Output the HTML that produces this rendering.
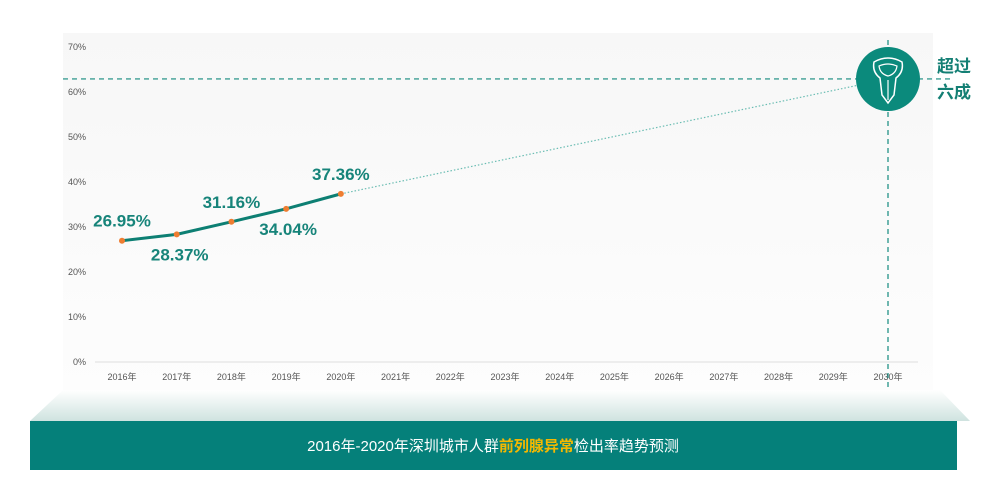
<!DOCTYPE html>
<html><head><meta charset="utf-8"><style>
body{margin:0;width:1000px;height:489px;background:#fff;overflow:hidden;font-family:"Liberation Sans","Noto Sans CJK SC",sans-serif}
</style></head><body>
<svg width="1000" height="489">
<defs>
<linearGradient id="bg" x1="0" y1="0" x2="0" y2="1"><stop offset="0" stop-color="#f7f7f7"/><stop offset="1" stop-color="#fdfdfd"/></linearGradient>
<linearGradient id="tr" x1="0" y1="0" x2="0" y2="1"><stop offset="0" stop-color="#ffffff"/><stop offset="1" stop-color="#cfe3e0"/></linearGradient>
</defs>
<rect x="63" y="33" width="870" height="360" fill="url(#bg)"/>
<polygon points="63,390 940,390 970,421 30,421" fill="url(#tr)"/>
<rect x="30" y="421" width="927" height="49" fill="#05807a"/>
<text x="493" y="451" text-anchor="middle" font-size="15" fill="#fff">2016年-2020年深圳城市人群<tspan fill="#f5b800" font-weight="bold">前列腺异常</tspan>检出率趋势预测</text>
<g id="axes"></g>
<g id="marks"></g>
<g>
<circle cx="888" cy="79" r="32" fill="#0b8a7c"/>
<path d="M874 62 Q888 54 902 62 Q904 72 896 78 L894 95 L888 103 L882 95 L880 78 Q872 72 874 62 Z" fill="none" stroke="#fff" stroke-width="1.5"/>
<path d="M879 66 Q888 62 897 66 Q896 74 888 76 Q880 74 879 66 Z" fill="none" stroke="#fff" stroke-width="1.2"/>
<line x1="888" y1="80" x2="888" y2="100" stroke="#fff" stroke-width="1.2"/>
</g>
<text x="937" y="72" font-size="17" font-weight="bold" fill="#137f74">超过</text>
<text x="937" y="98" font-size="17" font-weight="bold" fill="#137f74">六成</text>
</svg>
<script>
const years=["2016年","2017年","2018年","2019年","2020年","2021年","2022年","2023年","2024年","2025年","2026年","2027年","2028年","2029年","2030年"];
const actual=[26.95,28.37,31.16,34.04,37.36];
const projected=62.9;
const yTicks=[0,10,20,30,40,50,60,70];
const NS="http://www.w3.org/2000/svg";
const xs=i=>122+i*(888-122)/14;
const ys=v=>362-v*4.5;
function mk(t,a,p){const e=document.createElementNS(NS,t);for(const k in a)e.setAttribute(k,a[k]);(p||document.getElementById('marks')).appendChild(e);return e;}
const ax=document.getElementById('axes');
yTicks.forEach(v=>{const t=mk('text',{x:86,y:ys(v)+3,'text-anchor':'end','font-size':9,fill:'#555'},ax);t.textContent=v+'%';

});
const base=mk('line',{x1:95,x2:918,y1:ys(0),y2:ys(0),stroke:'#ddd'},ax);


years.forEach((y,i)=>{const t=mk('text',{x:xs(i),y:380,'text-anchor':'middle','font-size':9,fill:'#555'},ax);t.textContent=y;

});
const last=actual.length-1;
const hl=mk('line',{x1:63,x2:950,y1:ys(projected),y2:ys(projected),stroke:'#138a7e','stroke-dasharray':'5,4','stroke-width':1.2});


const vl=mk('line',{x1:xs(14),x2:xs(14),y1:40,y2:389,stroke:'#138a7e','stroke-dasharray':'5,4','stroke-width':1.2});


const pl=mk('line',{x1:xs(last),y1:ys(actual[last]),x2:xs(14),y2:ys(projected),stroke:'#6bbdb3','stroke-dasharray':'1.5,2','stroke-width':1.2});


const line=mk('polyline',{points:actual.map((v,i)=>xs(i)+','+ys(v)).join(' '),fill:'none',stroke:'#0d7f73','stroke-width':3});


const off=[[0,-14],[3,26],[0,-14],[2,26],[0,-14]];
actual.forEach((v,i)=>{const c=mk('circle',{cx:xs(i),cy:ys(v),r:3,fill:'#ee7d31'});


const t=mk('text',{x:xs(i)+off[i][0],y:ys(v)+off[i][1],'text-anchor':'middle','font-size':17,'font-weight':'bold',fill:'#17847a'});
t.textContent=v.toFixed(2)+'%';

});
</script>
</body></html>
